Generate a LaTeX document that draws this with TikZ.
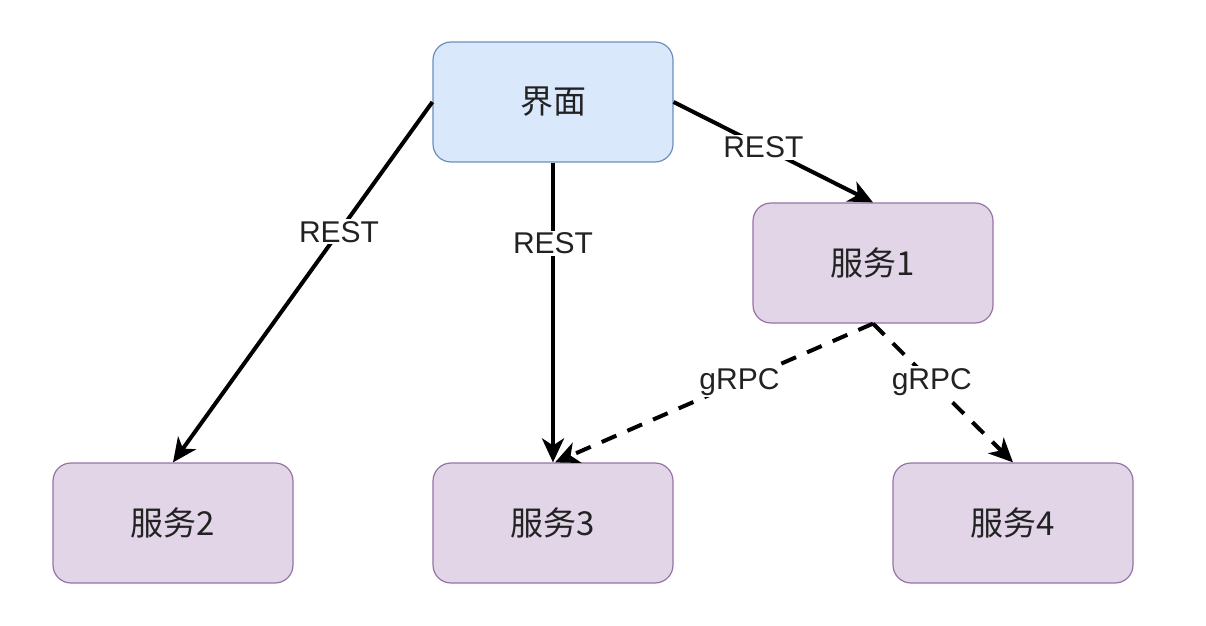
\documentclass[tikz,border=0pt]{standalone}
\usepackage{fontspec}
\setmainfont{Liberation Sans}
\newfontfamily\cjk{Noto Sans CJK SC}
\usetikzlibrary{arrows.meta}
\definecolor{bluefill}{HTML}{DAE8FC}
\definecolor{bluedraw}{HTML}{6C8EBF}
\definecolor{purplefill}{HTML}{E1D5E7}
\definecolor{purpledraw}{HTML}{9673A6}
\definecolor{txt}{HTML}{222222}
\tikzset{
  box/.style={rectangle, rounded corners=9pt, minimum width=120pt, minimum height=60pt,
    line width=0.6pt, font=\cjk\fontsize{16.5pt}{18pt}\selectfont, text=txt, inner sep=0pt},
  uibox/.style={box, fill=bluefill, draw=bluedraw},
  svcbox/.style={box, fill=purplefill, draw=purpledraw},
  conn/.style={line width=2pt, -{Stealth[length=12pt, width=11pt, inset=3.5pt]}},
  dashconn/.style={conn, dash pattern=on 8pt off 6pt},
  lbl/.style={fill=white, inner sep=1pt, font=\fontsize{15pt}{17pt}\selectfont, text=txt}
}
\begin{document}
\begin{tikzpicture}[x=0.5pt, y=-0.5pt]
\useasboundingbox (0,0) rectangle (1206,626);
\node[uibox] (ui) at (553,102) {界面};
\node[svcbox] (s1) at (873,263) {服务1};
\node[svcbox] (s2) at (173,523) {服务2};
\node[svcbox] (s3) at (553,523) {服务3};
\node[svcbox] (s4) at (1013,523) {服务4};
\coordinate (s3in) at ([xshift=1pt]s3.north);
\draw[conn] (ui.west) -- node[lbl, pos=0.36] {REST} (s2.north);
\draw[conn] (ui.south) -- node[lbl, pos=0.27] {REST} (s3.north);
\draw[conn] (ui.east) -- node[lbl, pos=0.45] {REST} (s1.north);
\draw[dashconn] (s1.south) -- node[lbl, pos=0.42] {gRPC} (s3in);
\draw[dashconn] (s1.south) -- node[lbl, pos=0.42] {gRPC} (s4.north);
\end{tikzpicture}
\end{document}
